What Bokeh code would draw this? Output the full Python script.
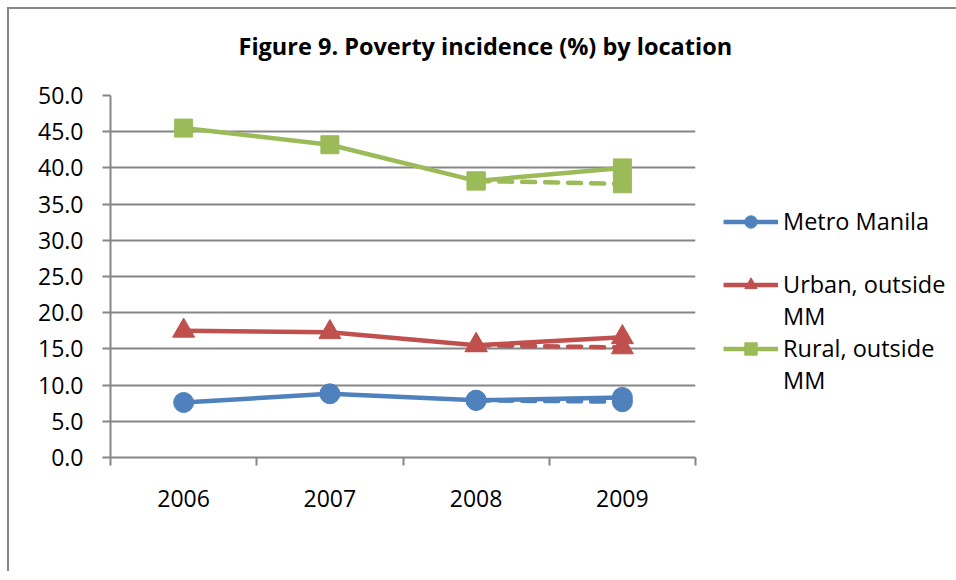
from bokeh.plotting import figure
from bokeh.models import (Range1d, FixedTicker, Legend, LegendItem, Title,
                          PrintfTickFormatter)
from bokeh.embed import file_html
from bokeh.resources import INLINE

# Poverty incidence (%) by location
years = ["2006", "2007", "2008", "2009"]
metro_manila = [7.6, 8.8, 7.9, 8.3]
urban_outside_mm = [17.5, 17.3, 15.5, 16.6]
rural_outside_mm = [45.5, 43.2, 38.2, 40.0]

# alternative 2008-2009 estimates (dashed)
alt_years = ["2008", "2009"]
metro_manila_alt = [7.9, 7.7]
urban_outside_mm_alt = [15.5, 15.2]
rural_outside_mm_alt = [38.2, 37.8]

y_ticks = [0, 5, 10, 15, 20, 25, 30, 35, 40, 45, 50]

BLUE = "#4F81BD"
RED = "#C0504D"
GREEN = "#9BBB59"
GREY = "#868686"
FONT = "Open Sans"

# categories sit at the middle of each unit slot
pos = {yr: i + 0.5 for i, yr in enumerate(years)}
x = [pos[yr] for yr in years]
x_alt = [pos[yr] for yr in alt_years]

p = figure(frame_width=585, frame_height=362, x_range=Range1d(0, len(years)),
           y_range=Range1d(0, 50), output_backend="svg", toolbar_location=None,
           min_border_left=101, min_border_right=252, min_border_top=86,
           min_border_bottom=114,
           title="Figure 9. Poverty incidence (%) by location")
p.styles = {"margin-left": "7px", "margin-top": "7px",
            "border-left": f"2px solid {GREY}", "border-top": f"2px solid {GREY}"}
p.outline_line_color = None
p.background_fill_color = "white"
p.border_fill_color = "white"

p.title.align = "left"
p.title.offset = 128
p.title.standoff = 0
p.title.text_font = FONT
p.title.text_font_style = "bold"
p.title.text_font_size = "23.5px"
p.title.text_color = "black"

# empty band between the title and the plot area
p.add_layout(Title(text=" ", text_font_size="10px", standoff=21), "above")

# x axis: labels at slot centres, tick marks at slot boundaries
p.xaxis.ticker = FixedTicker(ticks=x, minor_ticks=list(range(len(years) + 1)))
p.xaxis.major_label_overrides = {pos[yr]: yr for yr in years}
p.xaxis.major_tick_out = 0
p.xaxis.major_tick_in = 0
p.xaxis.minor_tick_out = 8
p.xaxis.minor_tick_in = 0
p.xaxis.minor_tick_line_color = GREY
p.xaxis.minor_tick_line_width = 2
p.xaxis.axis_line_color = GREY
p.xaxis.axis_line_width = 2
p.xaxis.major_label_standoff = 24
p.xgrid.visible = False

# y axis
p.yaxis.ticker = FixedTicker(ticks=y_ticks, minor_ticks=[])
p.yaxis.formatter = PrintfTickFormatter(format="%.1f")
p.yaxis.major_tick_out = 8
p.yaxis.major_tick_in = 0
p.yaxis.major_tick_line_color = GREY
p.yaxis.major_tick_line_width = 2
p.yaxis.axis_line_color = GREY
p.yaxis.axis_line_width = 2
p.yaxis.major_label_standoff = 19
p.ygrid.ticker = FixedTicker(ticks=y_ticks, minor_ticks=[])
p.ygrid.grid_line_color = GREY
p.ygrid.grid_line_width = 2

for ax in (p.xaxis, p.yaxis):
    ax.major_label_text_font = FONT
    ax.major_label_text_font_size = "23px"
    ax.major_label_text_color = "black"

LW = 4.5
DASH = "13 10"

series = [
    ("Metro Manila", metro_manila, metro_manila_alt, BLUE, "circle", 20),
    ("Urban, outside\nMM", urban_outside_mm, urban_outside_mm_alt, RED, "triangle", 22),
    ("Rural, outside\nMM", rural_outside_mm, rural_outside_mm_alt, GREEN, "square", 18),
]

legend_items = []
blank = p.line(x=[], y=[], line_alpha=0)
for i, (name, vals, alt, color, marker, size) in enumerate(series):
    p.line(x_alt, alt, line_color=color, line_width=LW, line_dash=DASH,
           line_cap="round")
    p.scatter(x_alt, alt, marker=marker, size=size, fill_color=color,
              line_color=color)
    ln = p.line(x, vals, line_color=color, line_width=LW)
    sc = p.scatter(x, vals, marker=marker, size=size, fill_color=color,
                   line_color=color)
    lines = name.split("\n")
    if i == 1:
        # empty row between the first and second entries
        legend_items.append(LegendItem(label=" ", renderers=[blank]))
    legend_items.append(LegendItem(label=lines[0], renderers=[ln, sc]))
    for extra in lines[1:]:
        legend_items.append(LegendItem(label=extra, renderers=[blank]))

legend = Legend(items=legend_items, location=(28, 61), orientation="vertical",
                glyph_width=55, glyph_height=31, spacing=0, padding=0, margin=0,
                label_standoff=5, border_line_color=None,
                background_fill_alpha=0, label_text_font=FONT,
                label_text_font_size="23.5px", label_text_color="black")
p.add_layout(legend, "right")

open("out.html", "w").write(file_html(p, INLINE))
